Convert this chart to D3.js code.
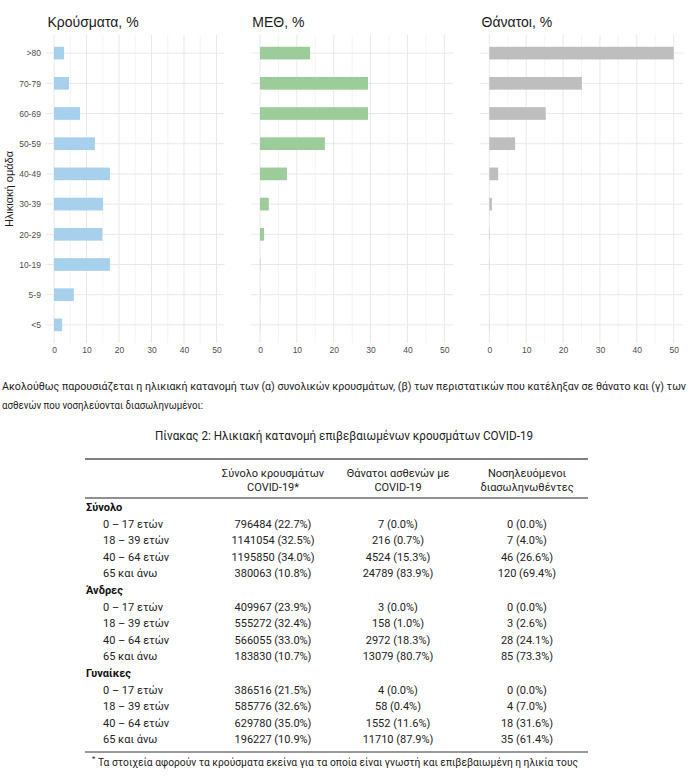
<!DOCTYPE html>
<html><head><meta charset="utf-8">
<script src="https://cdn.jsdelivr.net/npm/d3@7"></script>
<style>body{margin:0;background:#fff}svg{display:block}</style>
</head><body>
<svg id="c" width="692" height="777"></svg>
<script>
// ---- chart data ----
const ageGroups = ["<5","5-9","10-19","20-29","30-39","40-49","50-59","60-69","70-79",">80"];
const casesPct  = [2.5, 6.1, 17.2, 14.9, 15.1, 17.2, 12.6, 8.0, 4.6, 3.1];
const icuPct    = [0.05, 0.05, 0.1, 1.1, 2.4, 7.3, 17.6, 29.3, 29.3, 13.6];
const deathsPct = [0.05, 0, 0.05, 0.1, 0.7, 2.4, 7.0, 15.3, 25.1, 50.0];
const panelTitles = ["Κρούσματα, %", "ΜΕΘ, %", "Θάνατοι, %"];
const xTicks = [0, 10, 20, 30, 40, 50];
const yTitle = "Ηλικιακή ομάδα";

// ---- text / table data ----
const paragraph = ["Ακολούθως παρουσιάζεται η ηλικιακή κατανομή των (α) συνολικών κρουσμάτων, (β) των περιστατικών που κατέληξαν σε θάνατο και (γ) των",
                   "ασθενών που νοσηλεύονται διασωληνωμένοι:"];
const caption = "Πίνακας 2: Ηλικιακή κατανομή επιβεβαιωμένων κρουσμάτων COVID-19";
const colHeaders = [["Σύνολο κρουσμάτων","COVID-19*"],["Θάνατοι ασθενών με","COVID-19"],["Νοσηλευόμενοι","διασωληνωθέντες"]];
const groups = ["Σύνολο","Άνδρες","Γυναίκες"];
const rowLabels = ["0 – 17 ετών","18 – 39 ετών","40 – 64 ετών","65 και άνω"];
const totalCases = ["796484 (22.7%)","1141054 (32.5%)","1195850 (34.0%)","380063 (10.8%)"];
const totalDeaths = ["7 (0.0%)","216 (0.7%)","4524 (15.3%)","24789 (83.9%)"];
const totalIntub = ["0 (0.0%)","7 (4.0%)","46 (26.6%)","120 (69.4%)"];
const menCases = ["409967 (23.9%)","555272 (32.4%)","566055 (33.0%)","183830 (10.7%)"];
const menDeaths = ["3 (0.0%)","158 (1.0%)","2972 (18.3%)","13079 (80.7%)"];
const menIntub = ["0 (0.0%)","3 (2.6%)","28 (24.1%)","85 (73.3%)"];
const womenCases = ["386516 (21.5%)","585776 (32.6%)","629780 (35.0%)","196227 (10.9%)"];
const womenDeaths = ["4 (0.0%)","58 (0.4%)","1552 (11.6%)","11710 (87.9%)"];
const womenIntub = ["0 (0.0%)","4 (7.0%)","18 (31.6%)","35 (61.4%)"];
const footnote = "Τα στοιχεία αφορούν τα κρούσματα εκείνα για τα οποία είναι γνωστή και επιβεβαιωμένη η ηλικία τους";

const svg = d3.select("#c");
const F = "'Liberation Sans', Arial, sans-serif";

// ---- panels ----
const panels = [
  {title: panelTitles[0], vals: casesPct, color: "#a6d0ec", x0: 45.9, x1: 224.6, showY: true},
  {title: panelTitles[1], vals: icuPct,   color: "#9dcc9b", x0: 250.8, x1: 453.5, showY: false},
  {title: panelTitles[2], vals: deathsPct,color: "#bebebe", x0: 480.1, x1: 682.9, showY: false}
];
const y = d3.scalePoint().domain(ageGroups.slice().reverse()).range([35, 343]).padding(0.6);
const barH = y.step() * 0.42;

panels.forEach(p => {
  const x = d3.scaleLinear().domain([-2.5, 52.5]).range([p.x0, p.x1]);
  const g = svg.append("g");
  g.selectAll(".mn").data([5,15,25,35,45]).join("line")
    .attr("x1", d => x(d)).attr("x2", d => x(d)).attr("y1", 35).attr("y2", 343)
    .attr("stroke", "#efefef").attr("stroke-width", 0.7);
  g.selectAll(".mj").data(xTicks).join("line")
    .attr("x1", d => x(d)).attr("x2", d => x(d)).attr("y1", 35).attr("y2", 343)
    .attr("stroke", "#e8e8e8").attr("stroke-width", 1);
  g.selectAll(".hg").data(ageGroups).join("line")
    .attr("x1", p.x0).attr("x2", p.x1).attr("y1", d => y(d)).attr("y2", d => y(d))
    .attr("stroke", "#e8e8e8").attr("stroke-width", 1);
  g.selectAll(".bar").data(ageGroups.map((a, i) => ({a, v: p.vals[i]}))).join("rect")
    .attr("x", x(0)).attr("y", d => y(d.a) - barH / 2)
    .attr("width", d => Math.max(0, x(d.v) - x(0))).attr("height", barH)
    .attr("fill", p.color);
  const xa = g.append("g").attr("transform", "translate(0,343)")
    .call(d3.axisBottom(x).tickValues(xTicks).tickSize(0).tickPadding(4));
  xa.select(".domain").remove();
  xa.selectAll("text").attr("fill", "#4d4d4d").attr("font-size", 8.5).attr("font-family", F);
  if (p.showY) {
    const ya = g.append("g").attr("transform", `translate(${p.x0},0)`)
      .call(d3.axisLeft(y).tickSize(0).tickPadding(5));
    ya.select(".domain").remove();
    ya.selectAll("text").attr("fill", "#4d4d4d").attr("font-size", 8.5).attr("font-family", F);
    svg.append("text").attr("transform", "translate(13,189) rotate(-90)")
      .attr("text-anchor", "middle").attr("font-size", 11).attr("font-family", F)
      .attr("fill", "#1a1a1a").text(yTitle);
  }
  svg.append("text").attr("x", p.x0 + 1.5).attr("y", 27).attr("font-size", 14)
    .attr("font-family", F).attr("fill", "#1a1a1a").text(p.title);
});

// ---- paragraph ----
const TF = "Roboto, 'Noto Sans', sans-serif";
svg.append("text").attr("x", 2).attr("y", 390).attr("font-size", 10.5).attr("font-family", TF)
  .attr("fill", "#222").attr("textLength", 684).attr("lengthAdjust", "spacingAndGlyphs").text(paragraph[0]);
svg.append("text").attr("x", 2).attr("y", 409).attr("font-size", 10.5).attr("font-family", TF)
  .attr("fill", "#222").attr("textLength", 201).attr("lengthAdjust", "spacingAndGlyphs").text(paragraph[1]);
svg.append("text").attr("x", 155).attr("y", 440).attr("font-size", 12.5).attr("font-family", TF)
  .attr("fill", "#222").attr("textLength", 378).attr("lengthAdjust", "spacingAndGlyphs").text(caption);

// ---- table ----
const colX = [273, 398, 527];
svg.append("line").attr("x1", 85).attr("x2", 588).attr("y1", 459).attr("y2", 459).attr("stroke", "#555").attr("stroke-width", 1.6);
svg.append("line").attr("x1", 85).attr("x2", 588).attr("y1", 498).attr("y2", 498).attr("stroke", "#222").attr("stroke-width", 1);
colHeaders.forEach((h, i) => {
  h.forEach((t, j) => svg.append("text").attr("x", colX[i]).attr("y", 477 + j * 14)
    .attr("text-anchor", "middle").attr("font-size", 11).attr("font-family", TF).attr("fill", "#222").text(t));
});
const tableCols = [[totalCases, totalDeaths, totalIntub],[menCases, menDeaths, menIntub],[womenCases, womenDeaths, womenIntub]];
const groupY = [511, 594, 677];
groups.forEach((gname, gi) => {
  svg.append("text").attr("x", 86).attr("y", groupY[gi]).attr("font-size", 11).attr("font-weight", "bold")
    .attr("font-family", TF).attr("fill", "#111").text(gname);
  rowLabels.forEach((rl, ri) => {
    const yy = groupY[gi] + 16.6 * (ri + 1);
    svg.append("text").attr("x", 103).attr("y", yy).attr("font-size", 11).attr("font-family", TF).attr("fill", "#222").text(rl);
    tableCols[gi].forEach((col, ci) => {
      svg.append("text").attr("x", colX[ci]).attr("y", yy).attr("text-anchor", "middle")
        .attr("font-size", 11).attr("font-family", TF).attr("fill", "#222").text(col[ri]);
    });
  });
});
svg.append("line").attr("x1", 85).attr("x2", 588).attr("y1", 752).attr("y2", 752).attr("stroke", "#333").attr("stroke-width", 1.2);
svg.append("text").attr("x", 92).attr("y", 761).attr("font-size", 8).attr("font-family", TF).attr("fill", "#222").text("*");
svg.append("text").attr("x", 98).attr("y", 766).attr("font-size", 11.5).attr("font-family", TF)
  .attr("fill", "#222").attr("textLength", 480).attr("lengthAdjust", "spacingAndGlyphs").text(footnote);
</script>
</body></html>
